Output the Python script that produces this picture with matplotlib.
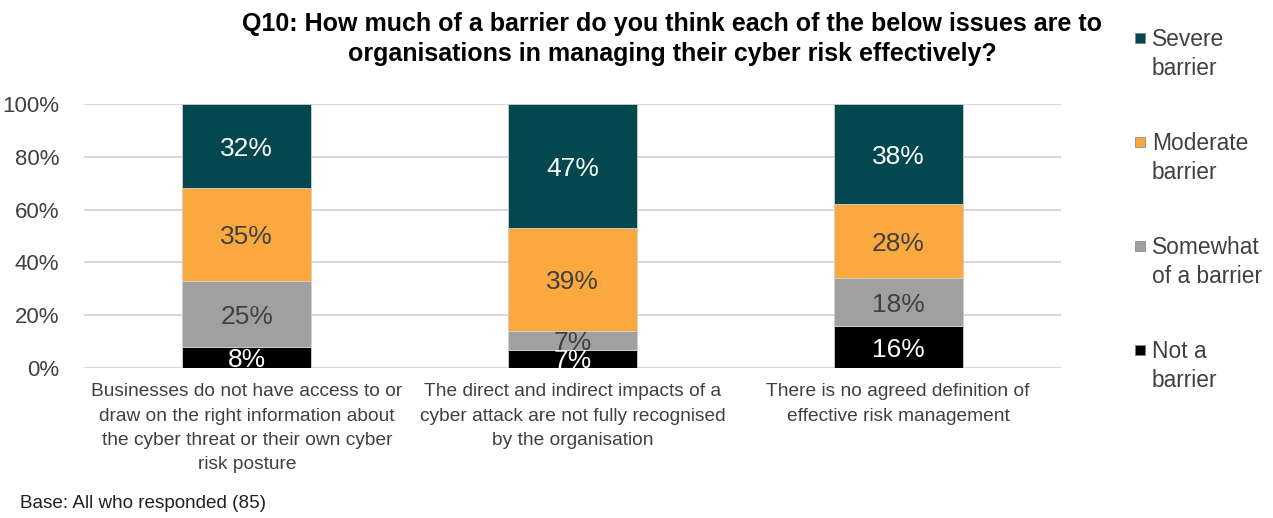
import matplotlib
matplotlib.use("Agg")
import matplotlib.pyplot as plt
from matplotlib.patches import Rectangle
import numpy as np

categories = [
    "Businesses do not have access to or\ndraw on the right information about\nthe cyber threat or their own cyber\nrisk posture",
    "The direct and indirect impacts of a\ncyber attack are not fully recognised\nby the organisation",
    "There is no agreed definition of\neffective risk management",
]
series_names = ["Not a\nbarrier", "Somewhat\nof a barrier", "Moderate\nbarrier", "Severe\nbarrier"]
not_a_barrier = [8, 7, 16]
somewhat = [25, 7, 18]
moderate = [35, 39, 28]
severe = [32, 47, 38]
series_values = [not_a_barrier, somewhat, moderate, severe]
colors = ["#000000", "#A0A0A0", "#FBA83E", "#03474F"]
label_colors = ["white", "#404040", "#404040", "white"]
yticks = [0, 20, 40, 60, 80, 100]
ytick_labels = ["0%", "20%", "40%", "60%", "80%", "100%"]
title = "Q10: How much of a barrier do you think each of the below issues are to\norganisations in managing their cyber risk effectively?"
footnote = "Base: All who responded (85)"

plt.rcParams['font.family'] = ['Liberation Sans', 'DejaVu Sans']

W, H = 1273, 518
fig = plt.figure(figsize=(W / 100, H / 100), dpi=100)
ax = fig.add_axes([84 / W, (H - 368) / H, (1061 - 84) / W, (368 - 104) / H])

x = np.arange(len(categories))
bottom = np.zeros(len(categories))
for vals, col, lc in zip(series_values, colors, label_colors):
    vals = np.array(vals, dtype=float)
    ax.bar(x, vals, bottom=bottom, width=0.396, color=col, edgecolor="#D0D0D0",
           linewidth=0.6, zorder=3)
    for xi, b, v in zip(x, bottom, vals):
        ax.text(xi, b + v / 2 - 1, f"{int(v)}%", ha="center", va="center",
                fontsize=19, color=lc, zorder=4)
    bottom += vals

ax.set_xlim(-0.5, len(categories) - 0.5)
ax.set_ylim(0, 100)
ax.set_yticks(yticks)
ax.set_yticklabels(ytick_labels, fontsize=16, color="#404040")
ax.set_xticks(x)
ax.set_xticklabels(categories, fontsize=13.8, color="#404040", linespacing=1.56, va="top")
ax.tick_params(axis="both", length=0)
ax.tick_params(axis="x", pad=11)
ax.tick_params(axis="y", pad=18)
ax.grid(axis="y", color="#D9D9D9", linewidth=1.5, zorder=0)
for s in ax.spines.values():
    s.set_visible(False)

fig.text(672 / W, 1 - 12 / H, title, ha="center", va="top", fontsize=18,
         fontweight="bold", family=["Liberation Sans Narrow", "Liberation Sans", "DejaVu Sans"],
         linespacing=1.3, color="black")

fig.text(20 / W, 1 - 504 / H, footnote, ha="left", va="center", fontsize=13.6, color="#202020")

# legend (top to bottom: Severe, Moderate, Somewhat, Not a barrier)
for i, (name, col) in enumerate(zip(series_names[::-1], colors[::-1])):
    ytop = 33 + 104 * i
    fig.patches.append(Rectangle((1135 / W, 1 - (ytop + 10) / H), 10 / W, 10 / H,
                                 transform=fig.transFigure, facecolor=col,
                                 edgecolor="#808080", linewidth=0.5))
    fig.text(1152 / W, 1 - (ytop - 5) / H, name, ha="left", va="top",
             fontsize=16.4, color="#404040", linespacing=1.35)

fig.savefig("out.png", dpi=100)
